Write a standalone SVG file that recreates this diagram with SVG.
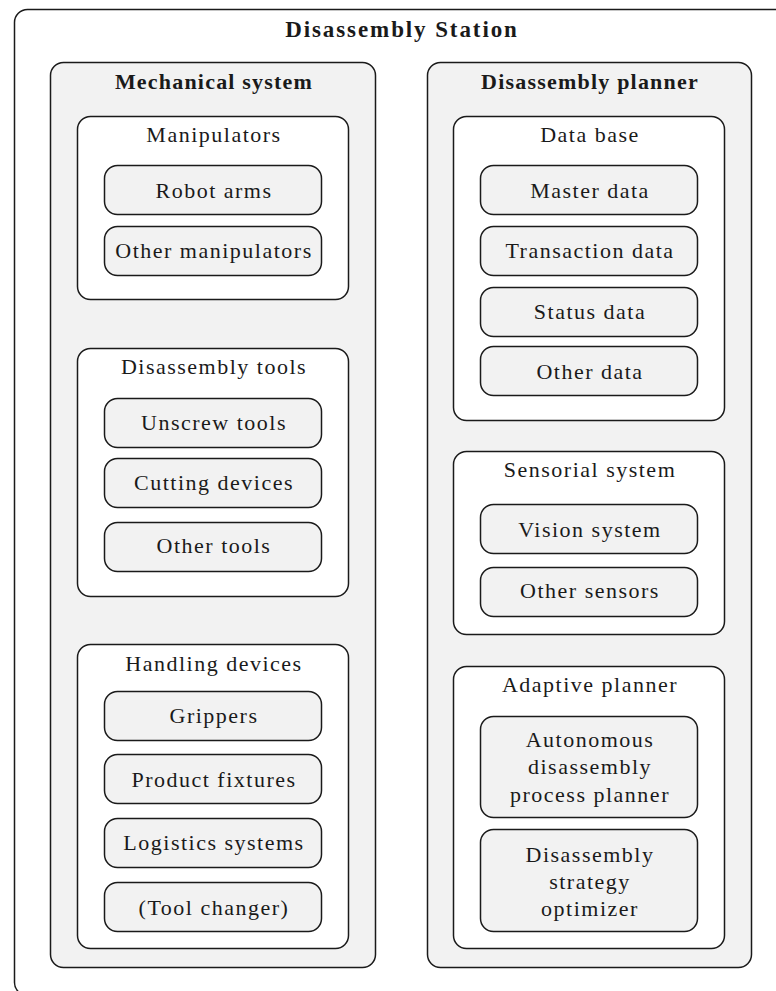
<svg xmlns="http://www.w3.org/2000/svg" width="776" height="991" viewBox="0 0 776 991">
<style>
rect{stroke:#1a1a1a;stroke-width:1.5}
.outer{fill:#ffffff}
.panel{fill:#f2f2f2}
.group{fill:#ffffff}
.leaf{fill:#f2f2f2}
text{font-family:"Liberation Serif",serif;font-size:22px;fill:#1a1a1a;text-anchor:middle;letter-spacing:1.5px}
.b{font-weight:bold;letter-spacing:1.2px}
.t{font-size:23px;letter-spacing:1.9px}
</style>
<g id="station">
<rect class="outer" x="14.5" y="9.5" width="775" height="986" rx="13"/>
<text class="b t" x="402" y="37">Disassembly Station</text>
</g>
<g id="mechanical-system">
<rect class="panel" x="50.5" y="62.5" width="325" height="905" rx="13"/>
<text class="b" x="214" y="89">Mechanical system</text>
</g>
<g id="manipulators">
<rect class="group" x="77.5" y="116.5" width="271" height="183" rx="13"/>
<text x="214" y="142">Manipulators</text>
</g>
<g id="robot-arms"><rect class="leaf" x="104.5" y="165.5" width="217" height="49" rx="13"/><text x="214" y="198">Robot arms</text></g>
<g id="other-manipulators"><rect class="leaf" x="104.5" y="226.5" width="217" height="49" rx="13"/><text x="214" y="258">Other manipulators</text></g>
<g id="disassembly-tools">
<rect class="group" x="77.5" y="348.5" width="271" height="248" rx="13"/>
<text x="214" y="374">Disassembly tools</text>
</g>
<g id="unscrew-tools"><rect class="leaf" x="104.5" y="398.5" width="217" height="49" rx="13"/><text x="214" y="430">Unscrew tools</text></g>
<g id="cutting-devices"><rect class="leaf" x="104.5" y="458.5" width="217" height="49" rx="13"/><text x="214" y="490">Cutting devices</text></g>
<g id="other-tools"><rect class="leaf" x="104.5" y="522.5" width="217" height="49" rx="13"/><text x="214" y="553">Other tools</text></g>
<g id="handling-devices">
<rect class="group" x="77.5" y="644.5" width="271" height="304" rx="13"/>
<text x="214" y="671">Handling devices</text>
</g>
<g id="grippers"><rect class="leaf" x="104.5" y="691.5" width="217" height="49" rx="13"/><text x="214" y="723">Grippers</text></g>
<g id="product-fixtures"><rect class="leaf" x="104.5" y="754.5" width="217" height="49" rx="13"/><text x="214" y="787">Product fixtures</text></g>
<g id="logistics-systems"><rect class="leaf" x="104.5" y="818.5" width="217" height="49" rx="13"/><text x="214" y="850">Logistics systems</text></g>
<g id="tool-changer"><rect class="leaf" x="104.5" y="882.5" width="217" height="49" rx="13"/><text x="214" y="915">(Tool changer)</text></g>
<g id="disassembly-planner">
<rect class="panel" x="427.5" y="62.5" width="324" height="905" rx="13"/>
<text class="b" x="590" y="89">Disassembly planner</text>
</g>
<g id="data-base">
<rect class="group" x="453.5" y="116.5" width="271" height="304" rx="13"/>
<text x="590" y="142">Data base</text>
</g>
<g id="master-data"><rect class="leaf" x="480.5" y="165.5" width="217" height="49" rx="13"/><text x="590" y="198">Master data</text></g>
<g id="transaction-data"><rect class="leaf" x="480.5" y="226.5" width="217" height="49" rx="13"/><text x="590" y="258">Transaction data</text></g>
<g id="status-data"><rect class="leaf" x="480.5" y="287.5" width="217" height="49" rx="13"/><text x="590" y="319">Status data</text></g>
<g id="other-data"><rect class="leaf" x="480.5" y="346.5" width="217" height="49" rx="13"/><text x="590" y="379">Other data</text></g>
<g id="sensorial-system">
<rect class="group" x="453.5" y="451.5" width="271" height="183" rx="13"/>
<text x="590" y="477">Sensorial system</text>
</g>
<g id="vision-system"><rect class="leaf" x="480.5" y="504.5" width="217" height="49" rx="13"/><text x="590" y="537">Vision system</text></g>
<g id="other-sensors"><rect class="leaf" x="480.5" y="567.5" width="217" height="49" rx="13"/><text x="590" y="598">Other sensors</text></g>
<g id="adaptive-planner">
<rect class="group" x="453.5" y="666.5" width="271" height="282" rx="13"/>
<text x="590" y="692">Adaptive planner</text>
</g>
<g id="autonomous-planner"><rect class="leaf" x="480.5" y="716.5" width="217" height="101" rx="13"/><text x="590" y="747">Autonomous</text><text x="590" y="774">disassembly</text><text x="590" y="802">process planner</text></g>
<g id="strategy-optimizer"><rect class="leaf" x="480.5" y="829.5" width="217" height="102" rx="13"/><text x="590" y="862">Disassembly</text><text x="590" y="889">strategy</text><text x="590" y="916">optimizer</text></g>
<g id="connectors"/>
</svg>
